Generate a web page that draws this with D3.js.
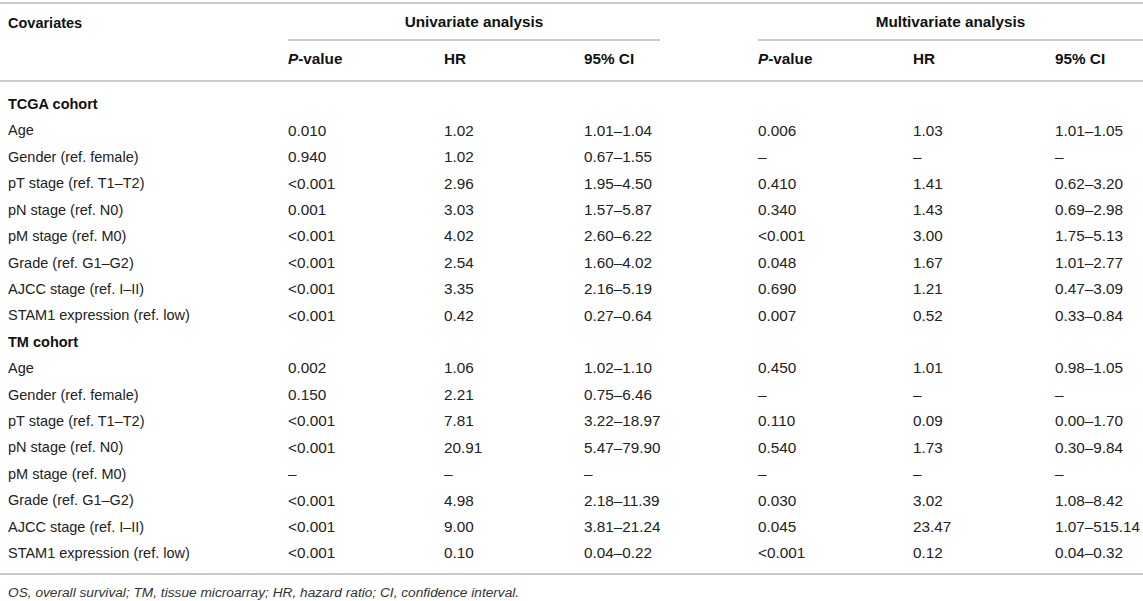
<!DOCTYPE html>
<html>
<head>
<meta charset="utf-8">
<script src="https://cdn.jsdelivr.net/npm/d3@7"></script>
<style>
    body { margin: 0; background: #fff; }
    svg { display: block; font-family: "Liberation Sans", Arial, Helvetica, sans-serif; }
    .cell { font-size: 14.5px; fill: #222; }
    .val { font-size: 15.3px; }
    .head { font-weight: bold; fill: #111; }
    .note { font-size: 13.7px; font-style: italic; fill: #333; }
    .rule { stroke: #b8b8b8; stroke-width: 1.6; }
</style>
</head>
<body>
<svg id="table"></svg>
<script>
// Table contents
const groups = ["TCGA cohort", "TM cohort"];
const covariates = ["Age", "Gender (ref. female)", "pT stage (ref. T1–T2)", "pN stage (ref. N0)",
                    "pM stage (ref. M0)", "Grade (ref. G1–G2)", "AJCC stage (ref. I–II)",
                    "STAM1 expression (ref. low)"];
const subHeaders = ["P-value", "HR", "95% CI"];
const analyses = ["Univariate analysis", "Multivariate analysis"];

const tcgaUniP   = ["0.010", "0.940", "<0.001", "0.001", "<0.001", "<0.001", "<0.001", "<0.001"];
const tcgaUniHR  = ["1.02", "1.02", "2.96", "3.03", "4.02", "2.54", "3.35", "0.42"];
const tcgaUniCI  = ["1.01–1.04", "0.67–1.55", "1.95–4.50", "1.57–5.87", "2.60–6.22", "1.60–4.02", "2.16–5.19", "0.27–0.64"];
const tcgaMulP   = ["0.006", "–", "0.410", "0.340", "<0.001", "0.048", "0.690", "0.007"];
const tcgaMulHR  = ["1.03", "–", "1.41", "1.43", "3.00", "1.67", "1.21", "0.52"];
const tcgaMulCI  = ["1.01–1.05", "–", "0.62–3.20", "0.69–2.98", "1.75–5.13", "1.01–2.77", "0.47–3.09", "0.33–0.84"];

const tmUniP     = ["0.002", "0.150", "<0.001", "<0.001", "–", "<0.001", "<0.001", "<0.001"];
const tmUniHR    = ["1.06", "2.21", "7.81", "20.91", "–", "4.98", "9.00", "0.10"];
const tmUniCI    = ["1.02–1.10", "0.75–6.46", "3.22–18.97", "5.47–79.90", "–", "2.18–11.39", "3.81–21.24", "0.04–0.22"];
const tmMulP     = ["0.450", "–", "0.110", "0.540", "–", "0.030", "0.045", "<0.001"];
const tmMulHR    = ["1.01", "–", "0.09", "1.73", "–", "3.02", "23.47", "0.12"];
const tmMulCI    = ["0.98–1.05", "–", "0.00–1.70", "0.30–9.84", "–", "1.08–8.42", "1.07–515.14", "0.04–0.32"];

const footnote = "OS, overall survival; TM, tissue microarray; HR, hazard ratio; CI, confidence interval.";

const width = 1143, height = 601;

const svg = d3.select("#table")
              .attr("width", width)
              .attr("height", height);

// Build row list: group header followed by its covariate rows
const cohortCols = [
    [tcgaUniP, tcgaUniHR, tcgaUniCI, tcgaMulP, tcgaMulHR, tcgaMulCI],
    [tmUniP, tmUniHR, tmUniCI, tmMulP, tmMulHR, tmMulCI]
];
let rows = [];
groups.forEach((g, gi) => {
    rows.push({id: g, label: g, group: true, values: []});
    covariates.forEach((c, ci) => {
        rows.push({id: g + "-" + c, label: c, group: false,
                   values: cohortCols[gi].map(col => col[ci])});
    });
});

// Column positions (left edges) for the six value columns
const colX = d3.scaleOrdinal()
               .domain(d3.range(6))
               .range([288, 444, 584, 758, 913, 1055]);

const rowY = d3.scalePoint()
               .domain(rows.map(r => r.id))
               .range([104, 553]);

// Rules
const rules = [
    {x1: 0, x2: width, y: 3},
    {x1: colX(0), x2: 660, y: 40},
    {x1: colX(3), x2: width, y: 40},
    {x1: 0, x2: width, y: 81},
    {x1: 0, x2: width, y: 574}
];
svg.selectAll("line.rule")
   .data(rules)
   .enter()
   .append("line")
   .attr("class", "rule")
   .attr("x1", d => d.x1)
   .attr("x2", d => d.x2)
   .attr("y1", d => d.y)
   .attr("y2", d => d.y);

// Header
svg.append("text")
   .attr("class", "cell head")
   .attr("x", 8)
   .attr("y", 23)
   .attr("dy", "0.35em")
   .text("Covariates");

svg.selectAll("text.analysis")
   .data(analyses)
   .enter()
   .append("text")
   .attr("class", "cell val head analysis")
   .attr("x", (d, i) => i === 0 ? (colX(0) + 660) / 2 : (colX(3) + width) / 2)
   .attr("y", 22)
   .attr("dy", "0.35em")
   .attr("text-anchor", "middle")
   .text(d => d);

const sub = svg.selectAll("text.sub")
   .data(d3.range(6))
   .enter()
   .append("text")
   .attr("class", "cell val head sub")
   .attr("x", d => colX(d))
   .attr("y", 59)
   .attr("dy", "0.35em");

sub.each(function(d) {
    const label = subHeaders[d % 3];
    const t = d3.select(this);
    if (label.startsWith("P-")) {
        t.append("tspan").attr("font-style", "italic").text("P");
        t.append("tspan").text(label.slice(1));
    } else {
        t.text(label);
    }
});

// Body rows
const rowG = svg.selectAll("g.row")
                .data(rows)
                .enter()
                .append("g")
                .attr("class", "row")
                .attr("transform", d => `translate(0,${rowY(d.id)})`);

rowG.append("text")
    .attr("class", d => d.group ? "cell head" : "cell")
    .attr("x", 8)
    .attr("dy", "0.35em")
    .text(d => d.label);

rowG.selectAll("text.val")
    .data(d => d.values)
    .enter()
    .append("text")
    .attr("class", "cell val")
    .attr("x", (d, i) => colX(i))
    .attr("dy", "0.35em")
    .text(d => d);

// Footnote
svg.append("text")
   .attr("class", "note")
   .attr("x", 8)
   .attr("y", 592)
   .attr("dy", "0.35em")
   .text(footnote);
</script>
</body>
</html>
